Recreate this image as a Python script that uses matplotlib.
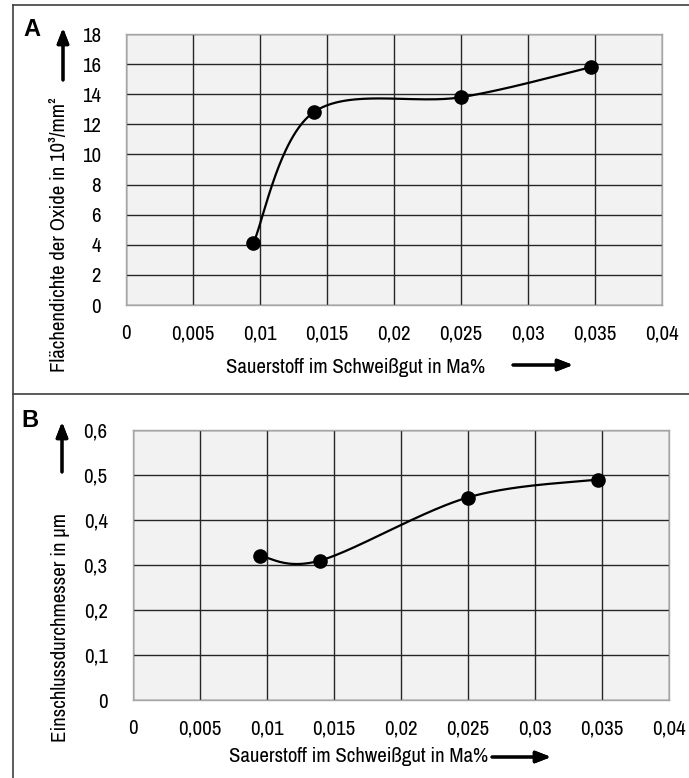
import numpy as np
import matplotlib.pyplot as plt
from matplotlib.lines import Line2D
from matplotlib.ticker import MultipleLocator, FuncFormatter

plt.rcParams['font.family'] = ['Liberation Sans Narrow', 'Archivo Narrow', 'Liberation Sans', 'DejaVu Sans']
plt.rcParams['font.stretch'] = 'condensed'

# data
oxygen = [0.0095, 0.014, 0.025, 0.0347]
density = [4.1, 12.8, 13.8, 15.8]          # 10^3/mm^2
diameter = [0.32, 0.31, 0.45, 0.49]        # µm

W, H = 689, 778
FS = 15


def smooth(xs, ys, sx, sy, n=60):
    # excel-like smoothed line (catmull-rom bezier) in pixel-ish space
    p = np.column_stack([np.array(xs) * sx, np.array(ys) * sy])
    pts = np.vstack([p[0], p, p[-1]])
    out = []
    t = np.linspace(0, 1, n)[:, None]
    for i in range(1, len(pts) - 2):
        p0, p1, p2, p3 = pts[i - 1], pts[i], pts[i + 1], pts[i + 2]
        c1 = p1 + (p2 - p0) / 6
        c2 = p2 - (p3 - p1) / 6
        seg = ((1 - t) ** 3) * p1 + 3 * ((1 - t) ** 2) * t * c1 + 3 * (1 - t) * t ** 2 * c2 + t ** 3 * p2
        out.append(seg)
    out = np.vstack(out)
    return out[:, 0] / sx, out[:, 1] / sy


def comma(v, pos):
    s = f"{v:.3f}".rstrip('0').rstrip('.')
    return s.replace('.', ',')


def panel(rect, ys, ymax, ystep):
    ax = fig.add_axes(rect)
    ax.set_facecolor('#f2f2f2')
    ax.set_xlim(0, 0.04)
    ax.set_ylim(0, ymax)
    ax.xaxis.set_major_locator(MultipleLocator(0.005))
    ax.yaxis.set_major_locator(MultipleLocator(ystep))
    ax.xaxis.set_major_formatter(FuncFormatter(comma))
    ax.yaxis.set_major_formatter(FuncFormatter(comma))
    ax.tick_params(length=0, labelsize=FS, pad=18)
    ax.tick_params(axis='x', pad=14)
    for s in ax.spines.values():
        s.set_color('#a6a6a6')
        s.set_linewidth(1.0)
    ax.grid(True, color='#262626', linewidth=1.0)
    ax.set_axisbelow(True)
    # pixel scale of the axes box so the smoothing works in screen space
    sx = rect[2] * W / 0.04
    sy = rect[3] * H / ymax
    cx, cy = smooth(oxygen, ys, sx, sy)
    ax.plot(cx, cy, color='black', linewidth=1.6, zorder=3)
    ax.plot(oxygen, ys, 'o', color='black', markersize=9.5, zorder=4)
    return ax


fig = plt.figure(figsize=(W / 100, H / 100), dpi=100)

axA = panel([126 / W, 1 - 305 / H, 536 / W, 271 / H], density, 18, 2)
axB = panel([132.7 / W, 1 - 700 / H, 536 / W, 270 / H], diameter, 0.6, 0.1)

# outer frame and panel divider
frame = dict(color='#404040', linewidth=1.2, transform=fig.transFigure)
fig.add_artist(Line2D([12.5 / W, 12.5 / W], [0, 1 - 4.5 / H], **frame))
fig.add_artist(Line2D([12.5 / W, 1], [1 - 4.5 / H, 1 - 4.5 / H], **frame))
fig.add_artist(Line2D([12.5 / W, 1], [1 - 394 / H, 1 - 394 / H], **frame))

# panel letters
fig.text(32 / W, 1 - 29 / H, 'A', fontsize=17, fontweight='bold', ha='center', va='center',
         family=['Liberation Sans', 'DejaVu Sans'], stretch='normal')
fig.text(30 / W, 1 - 421 / H, 'B', fontsize=17, fontweight='bold', ha='center', va='center',
         family=['Liberation Sans', 'DejaVu Sans'], stretch='normal')

# axis labels
fig.text(60 / W, 1 - 235 / H, 'Flächendichte der Oxide in 10³/mm²', rotation=90,
         fontsize=FS, ha='center', va='center')
fig.text(60 / W, 1 - 627 / H, 'Einschlussdurchmesser in µm', rotation=90,
         fontsize=FS, ha='center', va='center')
fig.text(356 / W, 1 - 367 / H, 'Sauerstoff im Schweißgut in Ma%', fontsize=FS,
         ha='center', va='center')
fig.text(359 / W, 1 - 757 / H, 'Sauerstoff im Schweißgut in Ma%', fontsize=FS,
         ha='center', va='center')

# direction arrows
arrow = dict(arrowstyle='-|>,head_length=0.9,head_width=0.35', color='black', linewidth=2.2,
             shrinkA=0, shrinkB=0)
for (x0, y0, x1, y1) in [(63, 80, 63, 28), (62, 472, 62, 422),
                         (513, 365, 573, 365), (492, 757, 551, 757)]:
    fig.add_artist(plt.annotate('', xy=(x1 / W, 1 - y1 / H), xytext=(x0 / W, 1 - y0 / H),
                                xycoords='figure fraction', textcoords='figure fraction',
                                arrowprops=arrow))

fig.savefig('out.png', dpi=100)
